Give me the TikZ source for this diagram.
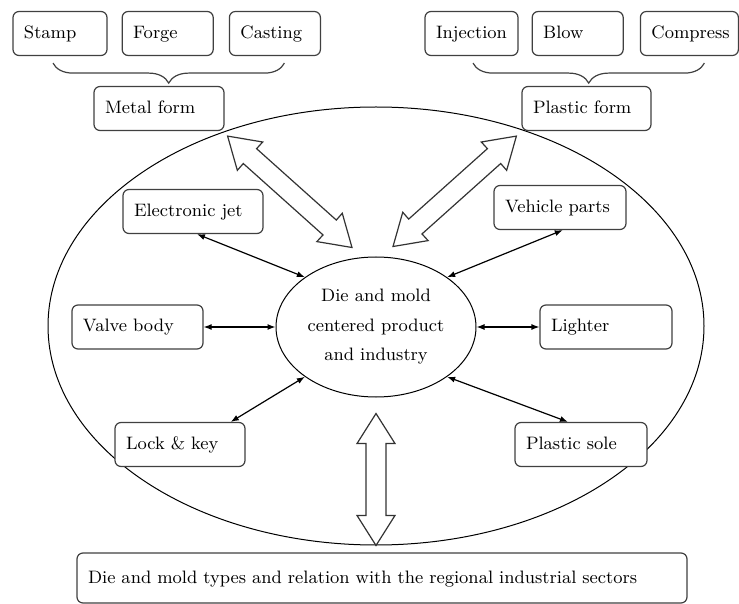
\documentclass[tikz,border=0pt]{standalone}
\usepackage{fontspec}
\usetikzlibrary{shapes.geometric, arrows.meta, positioning, calc, decorations.pathreplacing}

\tikzset{
  box/.style={rectangle, draw=black!75, line width=0.6pt, rounded corners=3pt, fill=white,
    text width=#1, align=left, inner xsep=5.5pt, minimum height=22pt, text height=7pt, text depth=2pt},
  link/.style={{Latex[length=4pt,width=3pt]}-{Latex[length=4pt,width=3pt]}, line width=0.6pt},
  hollow/.style={draw=black!80, fill=white, line width=0.6pt, line join=miter},
  curly/.style={decorate, decoration={brace, mirror, amplitude=10pt}, draw=black!75, line width=0.6pt}
}

\begin{document}
\begin{tikzpicture}[x=0.5pt, y=-0.5pt, font=\fontsize{9}{12}\selectfont]
\useasboundingbox (0,0) rectangle (739,604);

% outer ring and core
\node (outer) [ellipse, draw, line width=0.5pt, inner sep=0pt, minimum width=328pt, minimum height=219pt] at (376,326) {};
\node (core) [ellipse, draw, line width=0.5pt, inner sep=0pt, minimum width=100pt, minimum height=70pt,
  align=center, font=\fontsize{9}{14.75}\selectfont] at (376,327) {Die and mold\\centered product\\and industry};

% forming types
\node (stamp) [box=36pt] at (60,33.5) {Stamp};
\node (forge) [box=34.5pt, right=7pt of stamp] {Forge};
\node (casting) [box=34.5pt, right=7.5pt of forge] {Casting};
\node (injection) [box=35.5pt] at (471.5,33.5) {Injection};
\node (blow) [box=34.5pt, right=6.5pt of injection] {Blow};
\node (compress) [box=38pt, right=8pt of blow] {Compress};
\node (metal) [box=54pt] at (159,108.5) {Metal form};
\node (plastic) [box=53.5pt] at (586.5,108.5) {Plastic form};

\draw [curly] ($(stamp.south)+(-7,7)$) -- ($(casting.south)+(9.5,7)$);
\draw [curly] ($(injection.south)+(1.5,7)$) -- ($(compress.south)+(15,7)$);

% products
\node (ejet) [box=59pt] at (193,211.5) {Electronic jet};
\node (vehicle) [box=55pt] at (560,207.5) {Vehicle parts};
\node (valve) [box=54.5pt] at (137.5,327) {Valve body};
\node (lighter) [box=55pt] at (606,327) {Lighter};
\node (lock) [box=54pt] at (180,444.5) {Lock \& key};
\node (sole) [box=55pt] at (581,444.5) {Plastic sole};
\node (sectors) [box=294pt, minimum height=25pt] at (382,578) {Die and mold types and relation with the regional industrial sectors};

\draw [link] (ejet.-80) -- (core.145);
\draw [link] (vehicle.-83) -- (core.35);
\draw [link] (valve.east) -- (core.west);
\draw [link] (core.east) -- (lighter.west);
\draw [link] (lock.24) -- (core.215);
\draw [link] (sole.120) -- (core.-35);

% hollow double arrows
\coordinate (mtail) at ($(metal.south east)+(3,5)$);
\coordinate (mhead) at ($(core.north)+(-24,-9)$);
\coordinate (ptail) at ($(plastic.south west)+(-5,5)$);
\coordinate (phead) at ($(core.north)+(17,-10)$);
\coordinate (btail) at ($(core.south)+(0,16)$);
\coordinate (bhead) at (outer.south);
\foreach \src/\dst in {mtail/mhead, ptail/phead, btail/bhead}
  \draw [hollow] (\src)
    -- ($(\src)!17.8pt!32.3:(\dst)$) -- ($(\src)!15.8pt!18.4:(\dst)$)
    -- ($(\dst)!15.8pt!-18.4:(\src)$) -- ($(\dst)!17.8pt!-32.3:(\src)$)
    -- (\dst)
    -- ($(\dst)!17.8pt!32.3:(\src)$) -- ($(\dst)!15.8pt!18.4:(\src)$)
    -- ($(\src)!15.8pt!-18.4:(\dst)$) -- ($(\src)!17.8pt!-32.3:(\dst)$)
    -- cycle;
\end{tikzpicture}
\end{document}
